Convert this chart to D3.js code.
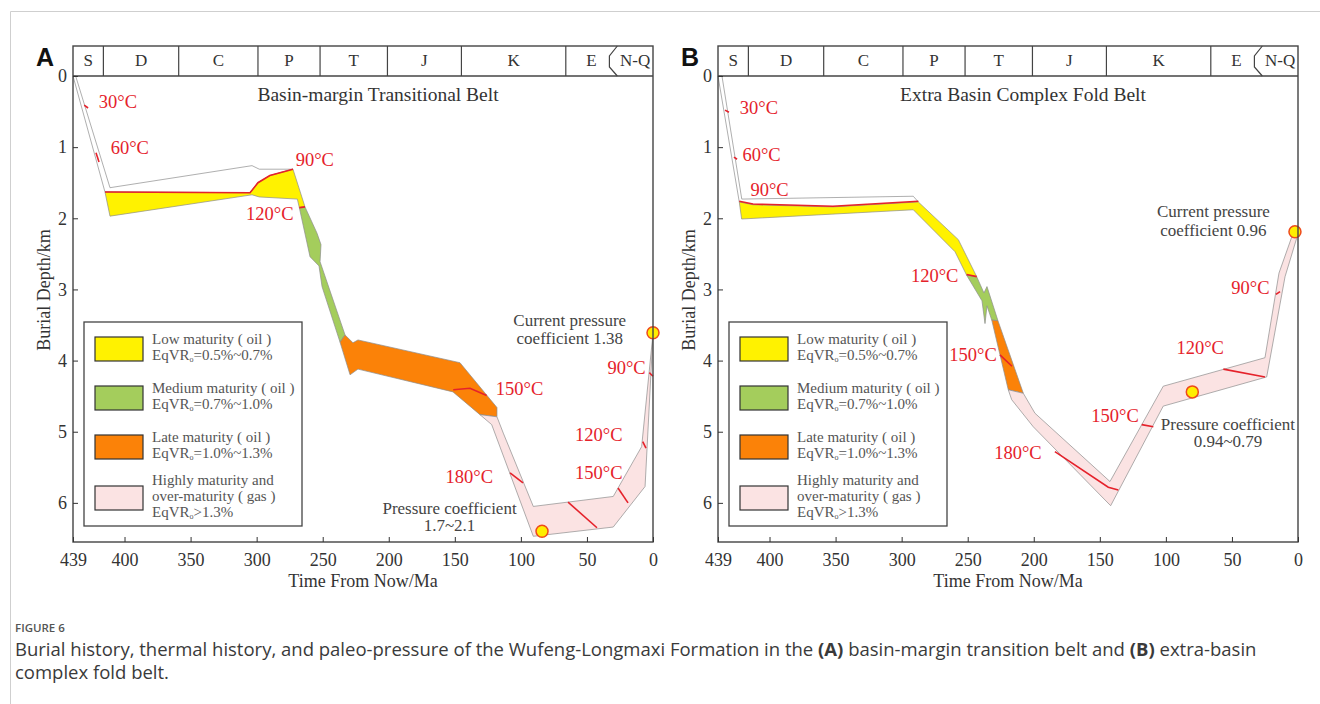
<!DOCTYPE html>
<html>
<head>
<meta charset="utf-8">
<script src="https://cdn.jsdelivr.net/npm/d3@7"></script>
<style>
  body { margin: 0; background: #fff; }
  svg { display: block; }
</style>
</head>
<body>
<svg id="chart" width="1320" height="704"></svg>
<script>
// ---- data (Ma, km) ----
const periodNames = ["S", "D", "C", "P", "T", "J", "K", "E", "N-Q"];
const periodBounds = [439, 416, 359, 299, 252, 201, 145, 66, 27, 0];
const timeTicks = [439, 400, 350, 300, 250, 200, 150, 100, 50, 0];
const depthTicks = [0, 1, 2, 3, 4, 5, 6];

const legendNames = [["Low maturity ( oil )"], ["Medium maturity ( oil )"], ["Late maturity ( oil )"], ["Highly maturity and", "over-maturity ( gas )"]];
const legendRanges = ["=0.5%~0.7%", "=0.7%~1.0%", "=1.0%~1.3%", ">1.3%"];

// panel A : basin-margin transitional belt
const aImmature = [[439, 0], [437, 0], [411, 1.57], [303.5, 1.26], [298, 1.31], [272.5, 1.31], [290, 1.40], [299, 1.50], [305, 1.64], [414.8, 1.63]];
const aLow = [[414.8, 1.63], [305, 1.64], [299, 1.50], [290, 1.40], [272.5, 1.31], [263.4, 1.84], [267.7, 1.85], [269.2, 1.73], [298, 1.70], [303.5, 1.67], [411, 1.97]];
const aMedium = [[267.7, 1.85], [263.4, 1.84], [254.3, 2.21], [251.3, 2.37], [252, 2.61], [233.1, 3.64], [236.9, 3.74], [250.5, 2.96], [252.8, 2.67], [259.6, 2.54]];
const aLate = [[236.9, 3.74], [233.1, 3.64], [227.1, 3.75], [223.3, 3.71], [146.1, 4.03], [118.1, 4.66], [118.1, 4.79], [131, 4.76], [151.4, 4.44], [223.3, 4.12], [229.3, 4.20]];
const aHigh = [[131, 4.76], [118.1, 4.79], [113.3, 5.02], [90.6, 6.05], [30.1, 5.91], [8.6, 5.21], [0, 3.62], [6.0, 5.77], [30.1, 6.34], [90.6, 6.47], [122.1, 4.90]];
const aIsotherms = [
  [[430.5, 0.41], [427.6, 0.45]],
  [[421.6, 1.08], [419.3, 1.21]],
  [[414.8, 1.63], [305, 1.64], [299, 1.50], [290, 1.40], [272.5, 1.31]],
  [[267.7, 1.85], [263.4, 1.84]],
  [[151.2, 4.41], [138.5, 4.39], [125.9, 4.49]],
  [[108.2, 5.58], [98.4, 5.72]],
  [[64.3, 5.99], [42.4, 6.35]],
  [[26.5, 5.79], [18.9, 6.0]],
  [[7.8, 5.14], [5.3, 5.23]],
  [[2.8, 4.17], [0, 4.22]]
];
const aTempLabels = [["30°C", 405, 0.39], ["60°C", 396, 1.04], ["90°C", 256, 1.21], ["120°C", 290, 1.97],
  ["150°C", 101, 4.42], ["180°C", 139, 5.66], ["120°C", 41, 5.07], ["150°C", 41, 5.6], ["90°C", 20, 4.13]];
const aNotes = [["Current pressure", 63, 3.46], ["coefficient 1.38", 63, 3.71], ["Pressure coefficient", 154, 6.10], ["1.7~2.1", 154, 6.34]];
const aPressure = [[0, 3.61], [84, 6.40]];

// panel B : extra basin complex fold belt
const bImmature = [[439, 0], [436, 0], [421, 1.73], [291.2, 1.69], [287.4, 1.77], [352, 1.84], [412.5, 1.81], [422.9, 1.77]];
const bLow = [[422.9, 1.77], [412.5, 1.81], [352, 1.84], [287.4, 1.77], [257.1, 2.30], [243.2, 2.82], [250.8, 2.80], [259.6, 2.47], [291.2, 1.88], [421.1, 2.01]];
const bMedium = [[250.8, 2.80], [243.2, 2.82], [237.7, 3.05], [235.4, 2.96], [227.1, 3.44], [231.8, 3.43], [235.4, 3.23], [236.9, 3.48], [239.2, 3.16]];
const bLate = [[231.8, 3.43], [227.1, 3.44], [207.9, 4.46], [219.3, 4.41]];
const bHigh = [[219.3, 4.41], [207.9, 4.46], [199.1, 4.74], [142.3, 5.70], [102, 4.36], [25, 3.96], [14.4, 2.77], [4.5, 2.25], [2.3, 2.19], [1, 2.28], [9.8, 2.82], [23.7, 4.23], [102, 4.64], [141.8, 6.04], [200.4, 4.93], [216.7, 4.55]];
const bIsotherms = [
  [[433.7, 0.48], [430.7, 0.51]],
  [[426.9, 1.14], [424.6, 1.17]],
  [[422.9, 1.76], [412.5, 1.80], [352, 1.83], [287.4, 1.76]],
  [[250.8, 2.79], [243.2, 2.82]],
  [[225.6, 3.92], [216.5, 4.08]],
  [[184, 5.28], [143.6, 5.78], [136, 5.82]],
  [[118.3, 4.90], [109.5, 4.93]],
  [[56.5, 4.12], [25, 4.23]],
  [[16.7, 3.07], [13.6, 3.03]]
];
const bTempLabels = [["30°C", 408, 0.48], ["60°C", 406, 1.13], ["90°C", 400, 1.62], ["120°C", 275, 2.83],
  ["150°C", 246, 3.94], ["180°C", 212, 5.32], ["150°C", 138.5, 4.81], ["120°C", 74, 3.85], ["90°C", 36, 3.01]];
const bNotes = [["Current pressure", 64, 1.93], ["coefficient 0.96", 64, 2.19], ["Pressure coefficient", 53, 4.92], ["0.94~0.79", 53, 5.16]];
const bPressure = [[2.3, 2.19], [80, 4.44]];

// ---- style ----
const zoneColors = ["#ffffff", "#fff200", "#a4cd5c", "#fb8208", "#fbe3e3"];
const red = "#e5222b";
const serif = "'Liberation Serif', 'Times New Roman', serif";

const svg = d3.select("#chart");
svg.append("rect").attr("width", 1320).attr("height", 704).attr("fill", "#fff");
svg.append("path").attr("d", "M10.5,704V11.5H1320").attr("fill", "none").attr("stroke", "#cfcfcf");

function drawPanel(cfg) {
  const top = 46, head = 76, bottom = 542, width = 580;
  const x = d3.scaleLinear().domain([439, 0]).range([cfg.left, cfg.left + width]);
  const y = d3.scaleLinear().domain([0, 6.55]).range([head, bottom]);
  const line = d3.line().x(d => x(d[0])).y(d => y(d[1]));
  const g = svg.append("g");

  // maturity zones
  g.selectAll("path.zone").data(cfg.zones).join("path")
    .attr("class", "zone")
    .attr("d", d => line(d) + "Z")
    .attr("fill", (d, i) => zoneColors[i])
    .attr("stroke", "#8c8c8c")
    .attr("stroke-width", 0.7)
    .attr("stroke-linejoin", "round");

  // isotherm marks
  g.selectAll("path.iso").data(cfg.iso).join("path")
    .attr("class", "iso")
    .attr("d", line)
    .attr("fill", "none")
    .attr("stroke", red)
    .attr("stroke-width", 1.6);

  g.selectAll("text.temp").data(cfg.temps).join("text")
    .attr("class", "temp")
    .attr("x", d => x(d[1])).attr("y", d => y(d[2]))
    .attr("text-anchor", "middle").attr("dominant-baseline", "middle")
    .attr("font-family", serif).attr("font-size", 18.5).attr("fill", red)
    .text(d => d[0]);

  g.selectAll("text.note").data(cfg.notes).join("text")
    .attr("class", "note")
    .attr("x", d => x(d[1])).attr("y", d => y(d[2]))
    .attr("text-anchor", "middle").attr("dominant-baseline", "middle")
    .attr("font-family", serif).attr("font-size", 17).attr("fill", "#444")
    .text(d => d[0]);

  g.selectAll("circle.press").data(cfg.pressure).join("circle")
    .attr("class", "press")
    .attr("cx", d => x(d[0])).attr("cy", d => y(d[1])).attr("r", 6)
    .attr("fill", "#ffee00").attr("stroke", "#ee4a1c").attr("stroke-width", 1.5);

  // frame and stratigraphic header
  g.append("rect").attr("x", cfg.left).attr("y", top).attr("width", width).attr("height", bottom - top)
    .attr("fill", "none").attr("stroke", "#444").attr("stroke-width", 1.4);
  g.append("line").attr("x1", cfg.left).attr("x2", cfg.left + width).attr("y1", head).attr("y2", head)
    .attr("stroke", "#444").attr("stroke-width", 1.4);
  const inner = periodBounds.slice(1, -2);
  g.selectAll("line.bound").data(inner).join("line")
    .attr("x1", d => x(d)).attr("x2", d => x(d)).attr("y1", top).attr("y2", head)
    .attr("stroke", "#444").attr("stroke-width", 1.2);
  const nq = periodBounds[periodBounds.length - 2];
  g.append("path")
    .attr("d", `M${x(nq)},${top}L${x(nq + 6)},${top + 10}V${head - 9}L${x(nq)},${head}`)
    .attr("fill", "none").attr("stroke", "#444").attr("stroke-width", 1.2);
  g.selectAll("text.period").data(periodNames).join("text")
    .attr("class", "period")
    .attr("x", (d, i) => x((periodBounds[i] + periodBounds[i + 1]) / 2))
    .attr("y", (top + head) / 2 + 1)
    .attr("text-anchor", "middle").attr("dominant-baseline", "middle")
    .attr("font-family", serif).attr("font-size", 17).attr("fill", "#333")
    .text(d => d);

  // axes
  const xAxis = d3.axisBottom(x).tickValues(timeTicks).tickSizeInner(-5).tickSizeOuter(0).tickPadding(11);
  g.append("g").attr("transform", `translate(0,${bottom})`).call(xAxis)
    .call(a => a.select(".domain").remove())
    .attr("font-family", serif).attr("font-size", 18).attr("color", "#333");
  const yAxis = d3.axisLeft(y).tickValues(depthTicks).tickFormat(d3.format("d"))
    .tickSizeInner(-5).tickSizeOuter(0).tickPadding(6);
  g.append("g").attr("transform", `translate(${cfg.left},0)`).call(yAxis)
    .call(a => a.select(".domain").remove())
    .attr("font-family", serif).attr("font-size", 18).attr("color", "#333");

  g.append("text").attr("x", cfg.left + width / 2).attr("y", 583)
    .attr("text-anchor", "middle").attr("dominant-baseline", "middle")
    .attr("font-family", serif).attr("font-size", 18).attr("fill", "#333")
    .text("Time From Now/Ma");
  g.append("text").attr("transform", `translate(${cfg.left - 27},290) rotate(-90)`)
    .attr("text-anchor", "middle").attr("dominant-baseline", "middle")
    .attr("font-family", serif).attr("font-size", 18).attr("fill", "#333")
    .text("Burial Depth/km");

  g.append("text").attr("x", cfg.left + 305).attr("y", 97)
    .attr("text-anchor", "middle").attr("dominant-baseline", "middle")
    .attr("font-family", serif).attr("font-size", 19.5).attr("fill", "#333")
    .text(cfg.title);

  g.append("text").attr("x", cfg.left - 28).attr("y", 66)
    .attr("text-anchor", "middle")
    .attr("font-family", "'Liberation Sans', Arial, sans-serif").attr("font-weight", "bold")
    .attr("font-size", 25).attr("fill", "#111")
    .text(cfg.letter);

  // legend
  const lg = g.append("g").attr("transform", `translate(${cfg.left + cfg.legendDx},322)`);
  lg.append("rect").attr("width", 218).attr("height", 204)
    .attr("fill", "#fff").attr("stroke", "#444").attr("stroke-width", 1.3);
  const rowY = [15, 64, 113, 164];
  legendNames.forEach((names, i) => {
    lg.append("rect").attr("x", 11).attr("y", rowY[i]).attr("width", 48).attr("height", 24)
      .attr("fill", zoneColors[i + 1]).attr("stroke", "#333").attr("stroke-width", 1.2);
    const lines = names.length;
    const y0 = rowY[i] + 12 - (lines === 1 ? 8 : 16);
    names.forEach((n, j) => {
      lg.append("text").attr("x", 68).attr("y", y0 + j * 16)
        .attr("dominant-baseline", "middle")
        .attr("font-family", serif).attr("font-size", 15).attr("fill", "#555")
        .text(n);
    });
    const t = lg.append("text").attr("x", 68).attr("y", y0 + lines * 16)
      .attr("dominant-baseline", "middle")
      .attr("font-family", serif).attr("font-size", 15).attr("fill", "#555");
    t.append("tspan").text("EqVR");
    t.append("tspan").attr("font-size", 8).attr("dy", 3).text("o");
    t.append("tspan").attr("dy", -3).text(legendRanges[i]);
  });
}

drawPanel({
  left: 73, letter: "A", title: "Basin-margin Transitional Belt", legendDx: 11,
  zones: [aImmature, aLow, aMedium, aLate, aHigh],
  iso: aIsotherms, temps: aTempLabels, notes: aNotes, pressure: aPressure
});
drawPanel({
  left: 718, letter: "B", title: "Extra Basin Complex Fold Belt", legendDx: 11,
  zones: [bImmature, bLow, bMedium, bLate, bHigh],
  iso: bIsotherms, temps: bTempLabels, notes: bNotes, pressure: bPressure
});

// caption
const cap = svg.append("g").attr("font-family", "'Open Sans', 'Noto Sans', sans-serif");
cap.append("text").attr("x", 15).attr("y", 632).attr("font-size", 11.5).attr("font-weight", 600)
  .attr("fill", "#555").text("FIGURE 6");
const c1 = cap.append("text").attr("x", 15).attr("y", 656).attr("font-size", 18.5).attr("fill", "#3a3a3a");
c1.append("tspan").text("Burial history, thermal history, and paleo-pressure of the Wufeng-Longmaxi Formation in the ");
c1.append("tspan").attr("font-weight", "bold").text("(A)");
c1.append("tspan").text(" basin-margin transition belt and ");
c1.append("tspan").attr("font-weight", "bold").text("(B)");
c1.append("tspan").text(" extra-basin");
cap.append("text").attr("x", 15).attr("y", 679).attr("font-size", 18.5).attr("fill", "#3a3a3a")
  .text("complex fold belt.");
</script>
</body>
</html>
